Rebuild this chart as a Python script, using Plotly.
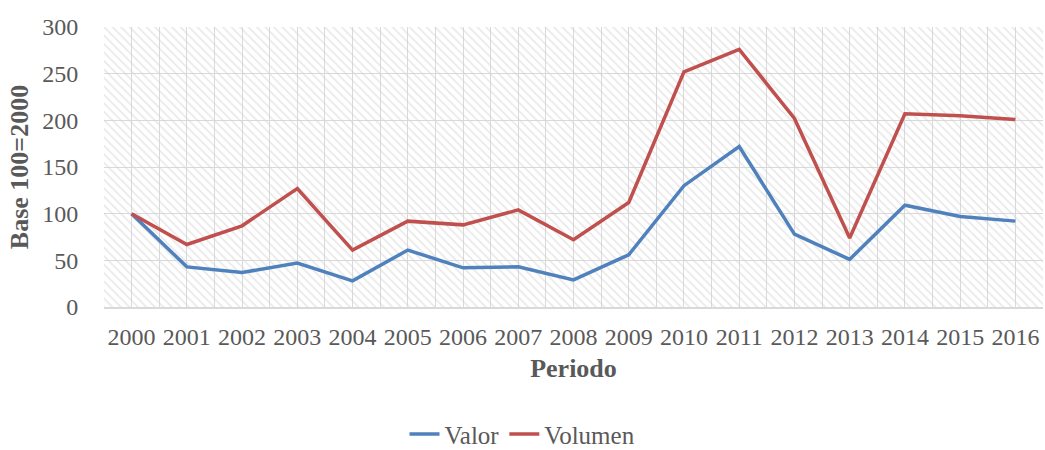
import plotly.graph_objects as go

years = list(range(2000, 2017))
year_labels = [str(y) for y in years]
valor = [100, 43, 37, 47, 28, 61, 42, 43, 29, 56, 130, 172, 78, 51, 109, 97, 92]
volumen = [100, 67, 87, 127, 61, 92, 88, 104, 72, 112, 252, 276, 202, 74, 207, 205, 201]
y_ticks = [0, 50, 100, 150, 200, 250, 300]

FONT = "Liberation Serif"
GREY_TXT = "#595959"
GRID = "#d9d9d9"

x_lo, x_hi = years[0] - 0.5, years[-1] + 0.5
y_lo, y_hi = y_ticks[0], y_ticks[-1]

fig = go.Figure()

# hatched plot-area background
fig.add_trace(go.Bar(
    x=[(x_lo + x_hi) / 2], y=[y_hi - y_lo], base=[y_lo], width=[x_hi - x_lo],
    marker=dict(color="rgba(0,0,0,0)", line=dict(width=0),
                pattern=dict(shape="\\", fgcolor="#d4d4d4", bgcolor="rgba(0,0,0,0)",
                             size=6, solidity=0.3)),
    showlegend=False, hoverinfo="skip",
))

fig.add_trace(go.Scatter(x=years, y=valor, mode="lines", name="Valor",
                         line=dict(color="#4f81bd", width=3.5)))
fig.add_trace(go.Scatter(x=years, y=volumen, mode="lines", name="Volumen",
                         line=dict(color="#c0504d", width=3.5)))

fig.update_layout(
    width=1045, height=450,
    margin=dict(l=104, r=2, t=27, b=143),
    paper_bgcolor="white", plot_bgcolor="white",
    font=dict(family=FONT, color=GREY_TXT, size=24),
    showlegend=True,
    legend=dict(orientation="h", xref="container", yref="container",
                x=0.5, xanchor="center", y=0.035, yanchor="middle",
                font=dict(size=25, color=GREY_TXT), traceorder="normal"),
    bargap=0,
)

fig.update_xaxes(
    type="linear", range=[x_lo, x_hi], automargin=False,
    tickmode="array", tickvals=years, ticktext=year_labels,
    showgrid=True, gridcolor=GRID, gridwidth=1,
    minor=dict(tickmode="linear", tick0=x_lo, dtick=0.5, showgrid=True,
               gridcolor=GRID, gridwidth=1, ticks=""),
    showline=True, linecolor=GRID, linewidth=1.5, mirror=False,
    ticks="outside", ticklen=7, tickcolor="rgba(0,0,0,0)",
    tickfont=dict(size=24, color=GREY_TXT),
    title=dict(text="<b>Periodo</b>", font=dict(size=26, color=GREY_TXT), standoff=10),
    zeroline=False,
)
fig.update_yaxes(
    range=[y_lo, y_hi], tickmode="array", tickvals=y_ticks, automargin=False,
    showgrid=True, gridcolor=GRID, gridwidth=1,
    showline=False, zeroline=False,
    ticks="outside", ticklen=20, tickcolor="rgba(0,0,0,0)",
    tickfont=dict(size=24, color=GREY_TXT),
    title=dict(text="<b>Base 100=2000</b>", font=dict(size=26, color=GREY_TXT), standoff=6),
)

fig.write_html("out.html", config={"displayModeBar": False},
               post_script="document.body.style.margin='0';")
